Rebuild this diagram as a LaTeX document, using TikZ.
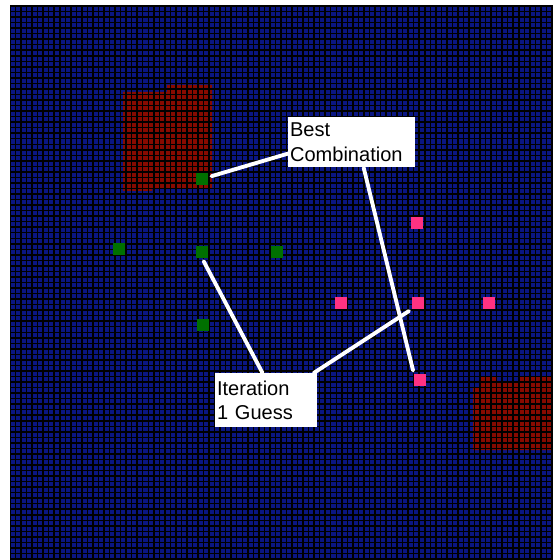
\documentclass[tikz,border=0pt]{standalone}
\usepackage{fontspec}
\setmainfont{Liberation Sans}
\usepackage{tikz}
\usepackage{xcolor}
\definecolor{cellblue}{RGB}{10,22,130}
\definecolor{blockred}{RGB}{135,10,0}
\definecolor{guessgreen}{RGB}{0,112,0}
\definecolor{bestpink}{RGB}{255,50,130}
\tikzstyle{gridline} = [black, line width=0.85pt]
\tikzstyle{greencell} = [rectangle, minimum size=0.23cm, inner sep=0pt, fill=guessgreen]
\tikzstyle{pinkcell} = [rectangle, minimum size=0.23cm, inner sep=0pt, fill=bestpink]
\tikzstyle{callout} = [rectangle, fill=white, anchor=north west, inner xsep=1pt, inner ysep=0pt, align=left, font=\fontsize{11.4}{14.2}\selectfont]
\tikzstyle{pointer} = [white, line width=2.2pt, line cap=round, shorten >= +2pt]

\begin{document}
\begin{tikzpicture}[x=0.02cm, y=-0.02cm]

			\useasboundingbox (0, 0) rectangle (553, 560);
			\fill [white] (0, 0) rectangle (553, 560);
			\fill [cellblue] (10, 6) rectangle (553, 560);
			% red blocks
			\fill [blockred] (123, 92) -- (167, 92) -- (167, 85) -- (212, 85) -- (212, 188) -- (152, 188) -- (152, 191) -- (123, 191) -- cycle;
			\fill [blockred] (479, 376) -- (497, 376) -- (497, 382) -- (520, 382) -- (520, 376) -- (553, 376) -- (553, 450) -- (473, 450) -- (473, 387) -- (479, 387) -- cycle;
			% grid
			\begin{scope}
				\clip (10, 6) rectangle (553, 560);
				\foreach \i in {0,...,98} {\draw [gridline] ({10+5.53*\i}, 6) -- ({10+5.53*\i}, 560);}
				\foreach \i in {0,...,100} {\draw [gridline] (10, {6+5.53*\i}) -- (553, {6+5.53*\i});}
			\end{scope}

			\node(g1) at (202, 179) [greencell] {};
			\node(g2) at (119, 249) [greencell] {};
			\node(g3) at (202, 252) [greencell] {};
			\node(g4) at (277, 252) [greencell] {};
			\node(g5) at (203, 325) [greencell] {};
			\node(p1) at (417, 223) [pinkcell] {};
			\node(p2) at (341, 303) [pinkcell] {};
			\node(p3) at (418, 303) [pinkcell] {};
			\node(p4) at (489, 303) [pinkcell] {};
			\node(p5) at (420, 380) [pinkcell] {};

			\node(best) at (288, 117) [callout, text width=2.47cm, minimum height=1cm] {Best\\Combination};
			\node(iter) at (215, 373) [callout, text width=1.97cm, minimum height=1.08cm] {Iteration\\1 Guess};

			\draw [pointer] (best.190) -- (g1);
			\draw [pointer] (best.295) -- (p5.north west);
			\draw [pointer] (iter.98) -- (g3.south);
			\draw [pointer] (iter.30) -- (p3.south west);
		\end{tikzpicture}
\end{document}
